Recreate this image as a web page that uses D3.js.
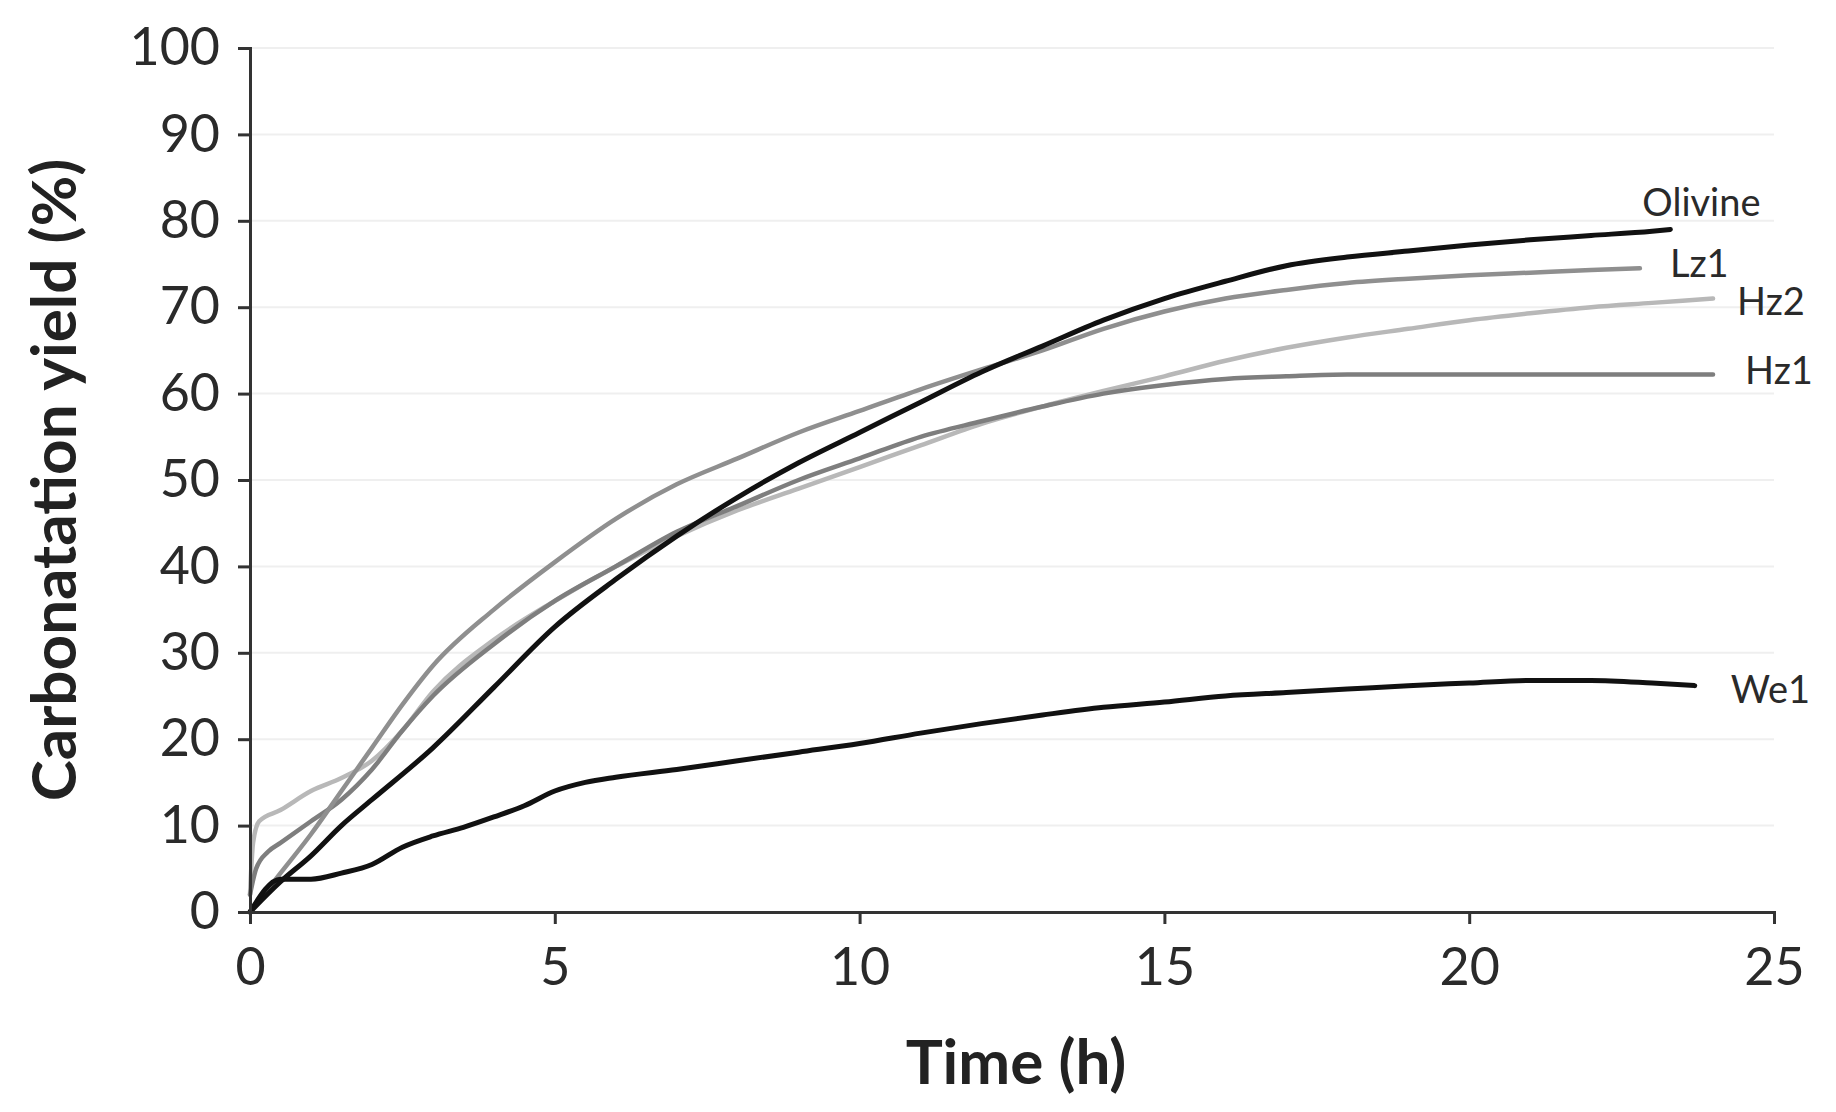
<!DOCTYPE html>
<html>
<head>
<meta charset="utf-8">
<script src="https://cdn.jsdelivr.net/npm/d3@7"></script>
<style>
  body { margin: 0; background: #fff; }
  svg text { font-family: Lato, "Open Sans", sans-serif; }
</style>
</head>
<body>
<svg id="chart" width="1836" height="1112"></svg>
<script>
// series: [time (h), yield (%)]
var seriesNames = ["Hz2", "Hz1", "Lz1", "We1", "Olivine"];

var hz2 = [[0,2],[0.05,8],[0.15,10.5],[0.5,11.8],[1,14],[1.5,15.5],[2,17.5],[2.5,21],[3,25.5],[4,31.5],[5,36],[6,40],[7,43.5],[8,46.5],[9,49],[10,51.5],[11,54],[12,56.5],[13,58.5],[14,60.3],[15,62],[16,63.8],[17,65.3],[18,66.5],[19,67.5],[20,68.5],[21,69.3],[22,70],[23,70.5],[24,71]];
var hz1 = [[0,2],[0.1,5],[0.3,7],[0.5,8],[1,10.5],[1.5,13],[2,16.5],[2.5,21],[3,25],[4,31],[5,36],[6,40],[7,44],[8,47],[9,50],[10,52.5],[11,55],[12,56.8],[13,58.5],[14,60],[15,61],[16,61.7],[17,62],[18,62.2],[20,62.2],[22,62.2],[24,62.2]];
var lz1 = [[0,0],[0.5,4.5],[1,9],[1.5,14],[2,19],[2.5,24],[3,28.5],[4,35],[5,40.5],[6,45.5],[7,49.5],[8,52.5],[9,55.5],[10,58],[11,60.5],[12,62.8],[13,65],[14,67.5],[15,69.5],[16,71],[17,72],[18,72.8],[19,73.3],[20,73.7],[21,74],[22,74.3],[22.8,74.5]];
var we1 = [[0,0],[0.5,3.8],[1,3.8],[1.5,4.5],[2,5.5],[2.5,7.5],[3,8.8],[3.5,9.8],[4,11],[4.5,12.3],[5,14],[5.5,15],[6,15.6],[7,16.5],[8,17.5],[9,18.5],[10,19.5],[11,20.7],[12,21.8],[13,22.8],[14,23.7],[15,24.3],[16,25],[17,25.4],[18,25.8],[19,26.2],[20,26.5],[21,26.8],[22,26.8],[23,26.5],[23.7,26.2]];
var olivine = [[0,0],[0.5,3.5],[1,6.5],[1.5,10],[2,13],[3,19],[4,26],[5,33],[6,38.5],[7,43.5],[8,48],[9,52],[10,55.5],[11,59],[12,62.5],[13,65.5],[14,68.5],[15,71],[16,73],[17,74.8],[18,75.8],[19,76.5],[20,77.2],[21,77.8],[22,78.3],[23,78.8],[23.3,79]];

var seriesValues = [hz2, hz1, lz1, we1, olivine];
var seriesColors = ["#b8b8b8", "#7e7e7e", "#8f8f8f", "#111111", "#111111"];

var xTicks = [0, 5, 10, 15, 20, 25];
var yTicks = [0, 10, 20, 30, 40, 50, 60, 70, 80, 90, 100];

var svg = d3.select("#chart");
var margin = {left: 250, right: 62, top: 48, bottom: 200};
var width = 1836 - margin.left - margin.right,
    height = 1112 - margin.top - margin.bottom;

var x = d3.scaleLinear().domain([0, 25]).range([0, width]);
var y = d3.scaleLinear().domain([0, 100]).range([height, 0]);

var g = svg.append("g")
    .attr("transform", "translate(" + margin.left + "," + margin.top + ")");

// faint horizontal gridlines
g.selectAll(".grid")
    .data(yTicks.slice(1))
    .enter().append("line")
    .attr("class", "grid")
    .attr("x1", 0).attr("x2", x(25))
    .attr("y1", function (d) { return y(d); })
    .attr("y2", function (d) { return y(d); })
    .attr("stroke", "#efefef")
    .attr("stroke-width", 2);

var line = d3.line()
    .x(function (d) { return x(d[0]); })
    .y(function (d) { return y(d[1]); })
    .curve(d3.curveMonotoneX);

g.selectAll(".series")
    .data(seriesValues)
    .enter().append("path")
    .attr("class", "series")
    .attr("d", line)
    .attr("fill", "none")
    .attr("stroke", function (d, i) { return seriesColors[i]; })
    .attr("stroke-width", function (d, i) { return i >= 3 ? 5 : 4.5; })
    .attr("stroke-linejoin", "round")
    .attr("stroke-linecap", "round");

// axes
var xAxis = g.append("g")
    .attr("transform", "translate(0," + height + ")")
    .call(d3.axisBottom(x).tickValues(xTicks).tickSize(12).tickPadding(20));
var yAxis = g.append("g")
    .call(d3.axisLeft(y).tickValues(yTicks).tickSize(12).tickPadding(18));

[xAxis, yAxis].forEach(function (a) {
    a.attr("font-family", null);
    a.select(".domain").attr("stroke", "#333").attr("stroke-width", 3);
    a.selectAll(".tick line").attr("stroke", "#333").attr("stroke-width", 3);
    a.selectAll(".tick text")
        .attr("fill", "#2a2a2a")
        .style("font-size", "52px");
});
xAxis.selectAll(".tick text").attr("dy", "0.78em");

// series labels placed next to the end of each curve
var labelOffsets = [[24, 3], [32, -4], [30, -5], [36, 4], [-28, -27]];
g.selectAll(".lbl")
    .data(seriesValues)
    .enter().append("text")
    .attr("class", "lbl")
    .attr("x", function (d, i) { return x(d[d.length - 1][0]) + labelOffsets[i][0]; })
    .attr("y", function (d, i) { return y(d[d.length - 1][1]) + labelOffsets[i][1]; })
    .attr("dy", "0.35em")
    .attr("fill", "#2a2a2a")
    .style("font-size", "38px")
    .text(function (d, i) { return seriesNames[i]; });

// axis titles
svg.append("text")
    .attr("x", margin.left + width / 2 + 4)
    .attr("y", 1062)
    .attr("text-anchor", "middle")
    .attr("dy", "0.35em")
    .attr("fill", "#222")
    .style("font-size", "62px")
    .style("font-weight", "bold")
    .text("Time (h)");

svg.append("text")
    .attr("transform", "translate(54," + (margin.top + height * 0.5) + ") rotate(-90)")
    .attr("text-anchor", "middle")
    .attr("dy", "0.35em")
    .attr("fill", "#222")
    .style("font-size", "62px")
    .style("font-weight", "bold")
    .text("Carbonatation yield (%)");
</script>
</body>
</html>
